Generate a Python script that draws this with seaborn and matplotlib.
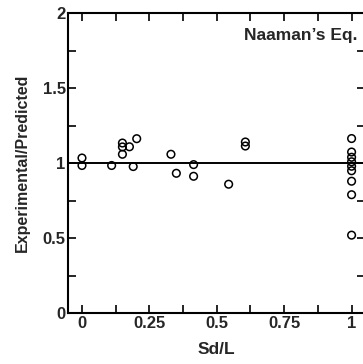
import matplotlib
matplotlib.use("Agg")
import matplotlib.pyplot as plt
from matplotlib.ticker import MultipleLocator, FixedLocator, FixedFormatter
import seaborn as sns
import pandas as pd

# Sd/L ratio and experimental/predicted strength ratio for each specimen
sd_over_l = [0.0, 0.0, 0.11, 0.15, 0.15, 0.15, 0.176, 0.19, 0.203,
             0.33, 0.35, 0.414, 0.414, 0.544, 0.606, 0.606,
             1.0, 1.0, 1.0, 1.0, 1.0, 1.0, 1.0, 1.0, 1.0]
exp_over_pred = [1.035, 0.985, 0.985, 1.135, 1.109, 1.06, 1.11, 0.978, 1.164,
                 1.06, 0.933, 0.991, 0.913, 0.86, 1.142, 1.115,
                 1.165, 1.075, 1.04, 1.01, 0.98, 0.95, 0.88, 0.79, 0.52]

x_ticks = [0, 0.25, 0.5, 0.75, 1]
x_tick_labels = ["0", "0.25", "0.5", "0.75", "1"]
y_ticks = [0, 0.5, 1, 1.5, 2]
y_tick_labels = ["0", "0.5", "1", "1.5", "2"]

df = pd.DataFrame({"Sd/L": sd_over_l, "Experimental/Predicted": exp_over_pred})

sns.set_style("white")
plt.rcParams["font.family"] = ["Liberation Sans", "DejaVu Sans"]
plt.rcParams["font.weight"] = "bold"

fig = plt.figure(figsize=(3.63, 3.64), dpi=100)
ax = fig.add_axes([0.1887, 0.140, 0.817, 0.823])

ax.axhline(1.0, color="black", lw=1.4, zorder=1)
sns.scatterplot(data=df, x="Sd/L", y="Experimental/Predicted", ax=ax,
                marker="o", s=30, facecolor="none", edgecolor="black",
                linewidth=1.1, zorder=2)

ax.set_xlim(-0.05, 1.05)
ax.set_ylim(0, 2)

ax.xaxis.set_major_locator(FixedLocator(x_ticks))
ax.xaxis.set_major_formatter(FixedFormatter(x_tick_labels))
ax.xaxis.set_minor_locator(MultipleLocator(0.125))
ax.yaxis.set_major_locator(FixedLocator(y_ticks))
ax.yaxis.set_major_formatter(FixedFormatter(y_tick_labels))
ax.yaxis.set_minor_locator(MultipleLocator(0.25))

ax.tick_params(which="both", direction="in", top=True, right=True,
               bottom=True, left=True, length=6, width=1.2, color="black")
ax.tick_params(axis="both", which="major", labelsize=12, pad=2)
for lab in ax.get_xticklabels() + ax.get_yticklabels():
    lab.set_fontweight("bold")

for sp in ax.spines.values():
    sp.set_color("black")
    sp.set_linewidth(1.5)

ax.set_xlabel("Sd/L", fontsize=12.5, fontweight="bold", labelpad=8)
ax.set_ylabel("Experimental/Predicted", fontsize=11.5, fontweight="bold", labelpad=9)

ax.text(0.975, 0.925, "Naaman\u2019s Eq.", transform=ax.transAxes,
        ha="right", va="center", fontsize=12.5, fontweight="bold")

fig.savefig("out.png", dpi=100)
